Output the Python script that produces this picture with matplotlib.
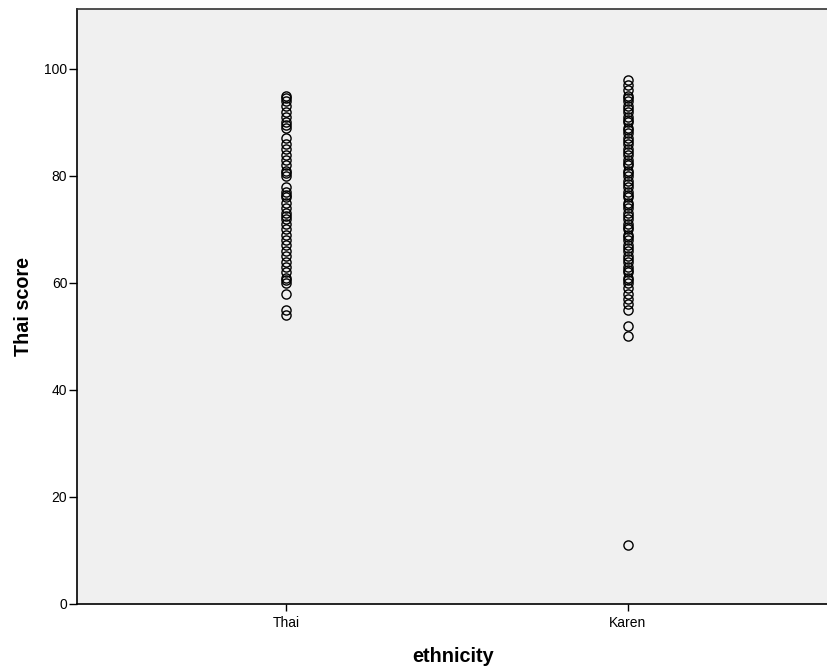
import matplotlib
matplotlib.use("Agg")
import matplotlib.pyplot as plt
import numpy as np

plt.rcParams['font.family'] = ['Liberation Sans', 'DejaVu Sans']

categories = ["Thai", "Karen"]
thai_scores = [95, 94.5, 94, 93, 92, 91, 90, 89.5, 89, 87, 86, 85, 84, 83, 82, 81, 80.5, 80,
               78, 77, 76.5, 76, 75, 74, 73, 72.5, 72, 71, 70, 69, 68, 67, 66, 65, 64, 63,
               62, 61, 60.5, 60, 58, 55, 54]
karen_scores = [98, 97, 96, 95, 94.5, 94, 93, 92.5, 92, 91, 90.5, 90, 89, 88.5, 88, 87, 86.5,
                86, 85, 84.5, 84, 83, 82.5, 82, 81, 80.5, 80, 79, 78.5, 78, 77, 76.5, 76, 75,
                74.5, 74, 73, 72.5, 72, 71, 70.5, 70, 69, 68.5, 68, 67, 66.5, 66, 65, 64.5, 64,
                63, 62.5, 62, 61, 60.5, 60, 59, 58, 57, 56, 55, 52, 50, 11]

fig = plt.figure(figsize=(8.28, 6.71), dpi=100)
ax = fig.add_axes([0.093, 0.0999, 0.909, 0.8867])
ax.set_facecolor('#f0f0f0')

for i, vals in enumerate([thai_scores, karen_scores]):
    ax.plot(np.full(len(vals), i + 1), vals, linestyle='none', marker='o',
            markersize=6.6, markerfacecolor='none', markeredgecolor='black',
            markeredgewidth=1.0)

ax.set_xlim(0.389, 2.59)
ax.set_ylim(0, 111.2)
ax.set_xticks([1, 2])
ax.set_xticklabels(categories)
ax.set_yticks([0, 20, 40, 60, 80, 100])
ax.tick_params(axis='both', direction='out', labelsize=10, width=1, color='black')
ax.tick_params(axis='y', length=6, pad=1)
ax.tick_params(axis='x', length=5, pad=4)
for s in ['left', 'bottom', 'top']:
    ax.spines[s].set_linewidth(1.2)
    ax.spines[s].set_color('black')
ax.spines['top'].set_color('#333333')
ax.spines['right'].set_visible(False)

ax.set_xlabel('ethnicity', fontsize=14.3, fontweight='bold', labelpad=12)
ax.set_ylabel('Thai score', fontsize=14.2, fontweight='bold', labelpad=8)

fig.savefig('out.png', dpi=100)
